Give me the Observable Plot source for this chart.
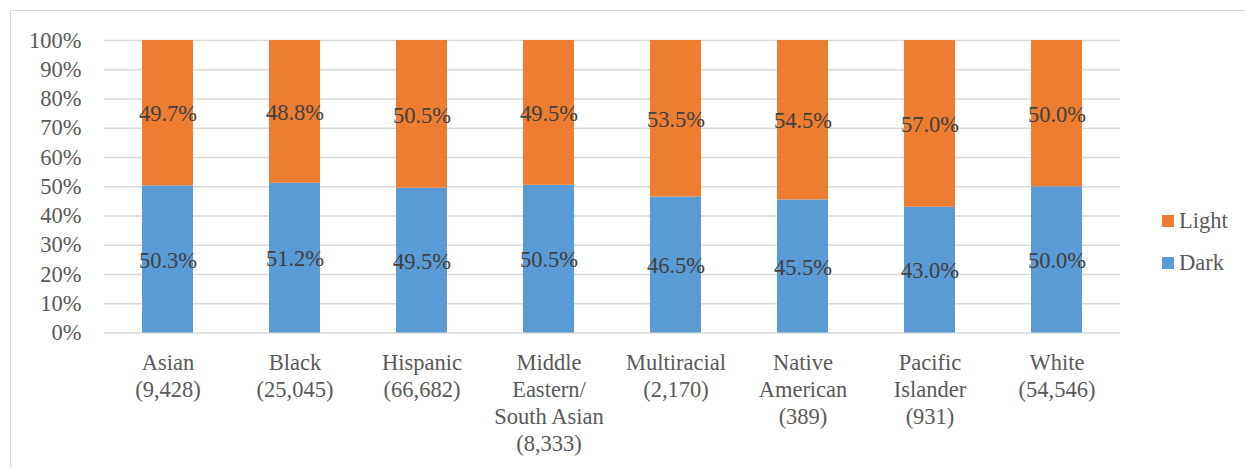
<!DOCTYPE html>
<html>
<head>
<meta charset="utf-8">
<script src="https://cdn.jsdelivr.net/npm/d3@7"></script>
<script src="https://cdn.jsdelivr.net/npm/@observablehq/plot@0.6"></script>
<style>
  html, body { margin: 0; padding: 0; background: #fff; overflow: hidden; }
  #wrap { position: relative; width: 1245px; height: 468px; overflow: hidden;
          font-family: 'Liberation Serif', 'Times New Roman', Times, serif; }
  #frame { position: absolute; left: 10px; top: 10px; width: 1400px; height: 600px;
           border: 1.5px solid #d9d9d9; box-sizing: border-box; }
  #chart { position: absolute; left: 0; top: 0; }
  #chart svg, #chart svg text { font-family: 'Liberation Serif', 'Times New Roman', Times, serif !important; }
  .legend { position: absolute; left: 1162px; font-size: 22.5px; color: #595959; }
  .legend .item { position: absolute; left: 0; white-space: nowrap; height: 26px; line-height: 26px; }
  .legend .sw { position: absolute; left: 0; top: 7px; width: 12px; height: 12px; }
  .legend .lb { position: absolute; left: 17px; top: 0; }
</style>
</head>
<body>
<div id="wrap">
  <div id="frame"></div>
  <div id="chart"></div>
  <div class="legend" id="legend"></div>
</div>
<script>
// ---- data ----
const groups = ["Asian", "Black", "Hispanic", "Middle\nEastern/\nSouth Asian", "Multiracial", "Native\nAmerican", "Pacific\nIslander", "White"];
const counts = ["9,428", "25,045", "66,682", "8,333", "2,170", "389", "931", "54,546"];
const darkValues = [50.3, 51.2, 49.5, 50.5, 46.5, 45.5, 43.0, 50.0];
const lightValues = [49.7, 48.8, 50.5, 49.5, 53.5, 54.5, 57.0, 50.0];
const series = ["Dark", "Light"];
const seriesColors = ["#5B9BD5", "#ED7D31"];
const yTicks = [0, 10, 20, 30, 40, 50, 60, 70, 80, 90, 100];

const labels = groups.map((g, i) => `${g}\n(${counts[i]})`);
const rows = [];
labels.forEach((l, i) => {
  rows.push({group: l, series: "Dark", value: darkValues[i]});
  rows.push({group: l, series: "Light", value: lightValues[i]});
});

const chart = Plot.plot({
  width: 1245,
  height: 468,
  marginLeft: 104,
  marginRight: 125,
  marginTop: 40,
  marginBottom: 135.5,
  style: { fontSize: "22.5px", background: "transparent" },
  x: { domain: labels, paddingInner: 0.6, paddingOuter: 0.3, label: null },
  y: { domain: [0, 100], label: null },
  color: { domain: series, range: seriesColors },
  marks: [
    Plot.gridY(yTicks, { stroke: "#d9d9d9", strokeOpacity: 1, strokeWidth: 1.5 }),
    Plot.barY(rows, Plot.stackY({ x: "group", y: "value", fill: "series", order: series })),
    Plot.text(rows, Plot.stackY({ x: "group", y: "value", z: "series", order: series,
      text: d => d.value.toFixed(1) + "%", fill: "#404040", dy: 1, fontSize: 22.5 })),
    Plot.axisY(yTicks, { tickSize: 0, tickPadding: 23, tickFormat: d => d + "%", fill: "#595959", fontSize: 22.5 }),
    Plot.axisX({ tickSize: 0, tickPadding: 18, lineHeight: 1.2, fill: "#595959", fontSize: 22.5 })
  ]
});
document.getElementById("chart").appendChild(chart);

// legend (Light above Dark, as in the reference)
const legend = document.getElementById("legend");
const legendOrder = [1, 0];
legendOrder.forEach((si, k) => {
  const item = document.createElement("div");
  item.className = "item";
  item.style.top = (208 + k * 42) + "px";
  item.innerHTML = `<span class="sw" style="background:${seriesColors[si]}"></span><span class="lb">${series[si]}</span>`;
  legend.appendChild(item);
});
</script>
</body>
</html>
